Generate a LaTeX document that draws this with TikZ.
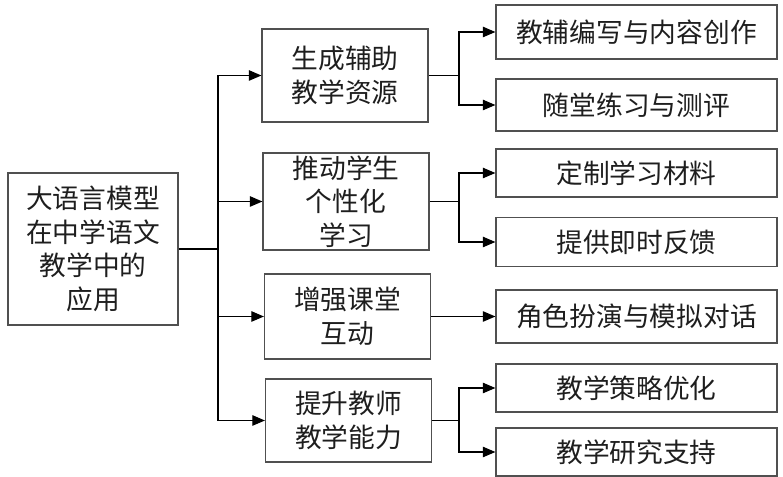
\documentclass[tikz,border=0pt]{standalone}
\usepackage{fontspec}
\usepackage{xcolor}
\usetikzlibrary{arrows.meta, positioning, calc}
\newfontfamily\cjk{Noto Sans CJK SC}
\definecolor{boxGray}{RGB}{80, 80, 80}
\definecolor{textDark}{RGB}{30, 30, 30}

\begin{document}
\begin{tikzpicture}[x=0.025cm, y=-0.025cm,
    box/.style={draw=boxGray, line width=0.8pt, text=textDark, align=center, inner sep=0pt,
        font=\cjk\fontsize{19}{24}\selectfont},
    midbox/.style={box, minimum width=4.15cm},
    leafbox/.style={box, minimum width=7.025cm, minimum height=1.25cm},
    link/.style={line width=0.8pt},
    arrow/.style={link, -{Triangle[length=9pt, width=7.5pt]}}]
                    \useasboundingbox (0,0) rectangle (783,477);

                    % Root
                    \node[box, minimum width=4.25cm, minimum height=3.8cm] at (93,249) (root) {大语言模型\\在中学语文\\教学中的\\应用};

                    % Fields
                    \node[midbox, minimum height=2.325cm] at (345,75.5) (gen) {生成辅助\\教学资源};
                    \node[midbox, minimum height=2.425cm] at (346,201.5) (per) {推动学生\\个性化\\学习};
                    \node[midbox, minimum height=2.125cm] at (347.5,316.5) (int) {增强课堂\\互动};
                    \node[midbox, minimum height=2.075cm] at (348.5,420.5) (tch) {提升教师\\教学能力};

                    % Uses
                    \node[leafbox, minimum height=1.35cm] at (636.5,32) (write) {教辅编写与内容创作};
                    \node[leafbox, minimum height=1.3cm] at (636.5,105) (test) {随堂练习与测评};
                    \node[leafbox, minimum height=1.2cm] at (636.5,173) (mat) {定制学习材料};
                    \node[leafbox, minimum height=1.225cm] at (636.5,242) (fb) {提供即时反馈};
                    \node[leafbox, minimum height=1.325cm] at (636.5,316.5) (role) {角色扮演与模拟对话};
                    \node[leafbox, minimum height=1.2cm] at (636.5,388) (strat) {教学策略优化};
                    \node[leafbox, minimum height=1.2cm] at (636.5,452) (res) {教学研究支持};

                    % Arrows
                    \coordinate (trunk) at (218,249);
                    \coordinate (bx) at (459,0);
                    \draw[link] (root) -- (trunk);
                    \foreach \mid in {gen, per, int, tch} \draw[arrow] (trunk) |- (\mid.west);
                    \coordinate (jgen) at (gen.east -| bx);
                    \coordinate (jper) at (per.east -| bx);
                    \coordinate (jtch) at (tch.east -| bx);
                    \draw[link] (gen) -- (jgen);
                    \draw[link] (per) -- (jper);
                    \draw[link] (tch) -- (jtch);
                    \foreach \leaf in {write, test} \draw[arrow] (jgen) |- (\leaf.west);
                    \foreach \leaf in {mat, fb} \draw[arrow] (jper) |- (\leaf.west);
                    \foreach \leaf in {strat, res} \draw[arrow] (jtch) |- (\leaf.west);
                    \draw[arrow] (int) -- (role);
                \end{tikzpicture}
\end{document}
